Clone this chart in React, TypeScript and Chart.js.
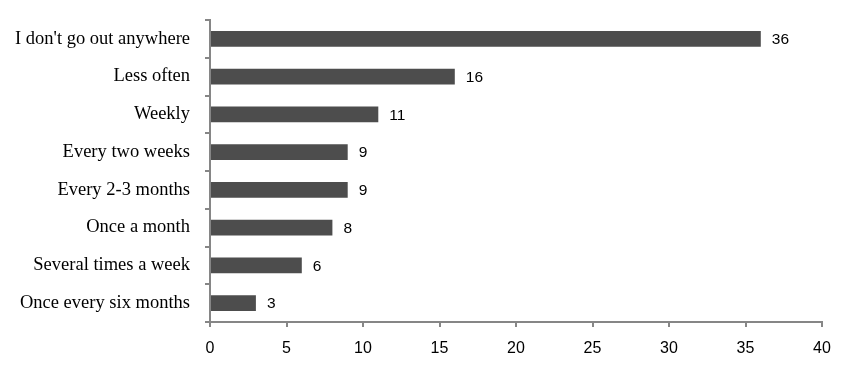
import React, { useEffect, useRef } from "react";
import { Chart, registerables } from "chart.js";

Chart.register(...registerables);

const categories = [
  "I don't go out anywhere",
  "Less often",
  "Weekly",
  "Every two weeks",
  "Every 2-3 months",
  "Once a month",
  "Several times a week",
  "Once every six months",
];
const values = [36, 16, 11, 9, 9, 8, 6, 3];
const xMin = 0;
const xMax = 40;
const xStep = 5;

const AXIS = "#868686";
const BAR = "#4d4d4d";

const valueLabels = {
  id: "valueLabels",
  afterDatasetsDraw(chart: any) {
    const ctx = chart.ctx;
    const meta = chart.getDatasetMeta(0);
    ctx.save();
    ctx.font = "15.5px 'Liberation Sans', Arial, sans-serif";
    ctx.fillStyle = "#000";
    ctx.textAlign = "left";
    ctx.textBaseline = "middle";
    meta.data.forEach((bar: any, i: number) => {
      ctx.fillText(String(values[i]), bar.x + 11, bar.y + 1);
    });
    ctx.restore();
  },
};

export default function App() {
  const ref = useRef<HTMLCanvasElement>(null);
  useEffect(() => {
    if (!ref.current) return;
    const chart = new Chart(ref.current, {
      type: "bar",
      data: {
        labels: categories,
        datasets: [
          {
            data: values,
            backgroundColor: BAR,
            borderWidth: 0,
            barPercentage: 1,
            categoryPercentage: 0.42,
          },
        ],
      },
      options: {
        indexAxis: "y",
        responsive: false,
        animation: false,
        events: [],
        layout: { padding: { top: 20, right: 28, left: 0, bottom: 0 } },
        plugins: {
          legend: { display: false },
          tooltip: { enabled: false },
        },
        scales: {
          x: {
            min: xMin,
            max: xMax,
            ticks: {
              stepSize: xStep,
              color: "#000",
              font: { family: "'Liberation Sans', Arial, sans-serif", size: 16 },
              padding: 12,
            },
            grid: {
              drawOnChartArea: false,
              drawTicks: true,
              tickLength: 5,
              color: AXIS,
              lineWidth: 2,
            },
            border: { color: AXIS, width: 2 },
            afterFit: (s: any) => {
              s.height = 44;
              s.paddingLeft = 0;
              s.paddingRight = 0;
            },
          },
          y: {
            ticks: {
              color: "#000",
              font: { family: "'Liberation Serif', 'Times New Roman', serif", size: 18.5 },
              padding: 15,
            },
            grid: {
              drawOnChartArea: false,
              drawTicks: true,
              tickLength: 5,
              color: AXIS,
              lineWidth: 2,
            },
            border: { color: AXIS, width: 2 },
            afterFit: (s: any) => {
              s.width = 210;
              s.paddingTop = 0;
              s.paddingBottom = 0;
            },
          },
        },
      },
      plugins: [valueLabels],
    });
    return () => chart.destroy();
  }, []);
  return (
    <div style={{ position: "absolute", left: 0, top: 0, width: 850, height: 366, background: "#fff" }}>
      <canvas ref={ref} width={850} height={366} />
    </div>
  );
}
